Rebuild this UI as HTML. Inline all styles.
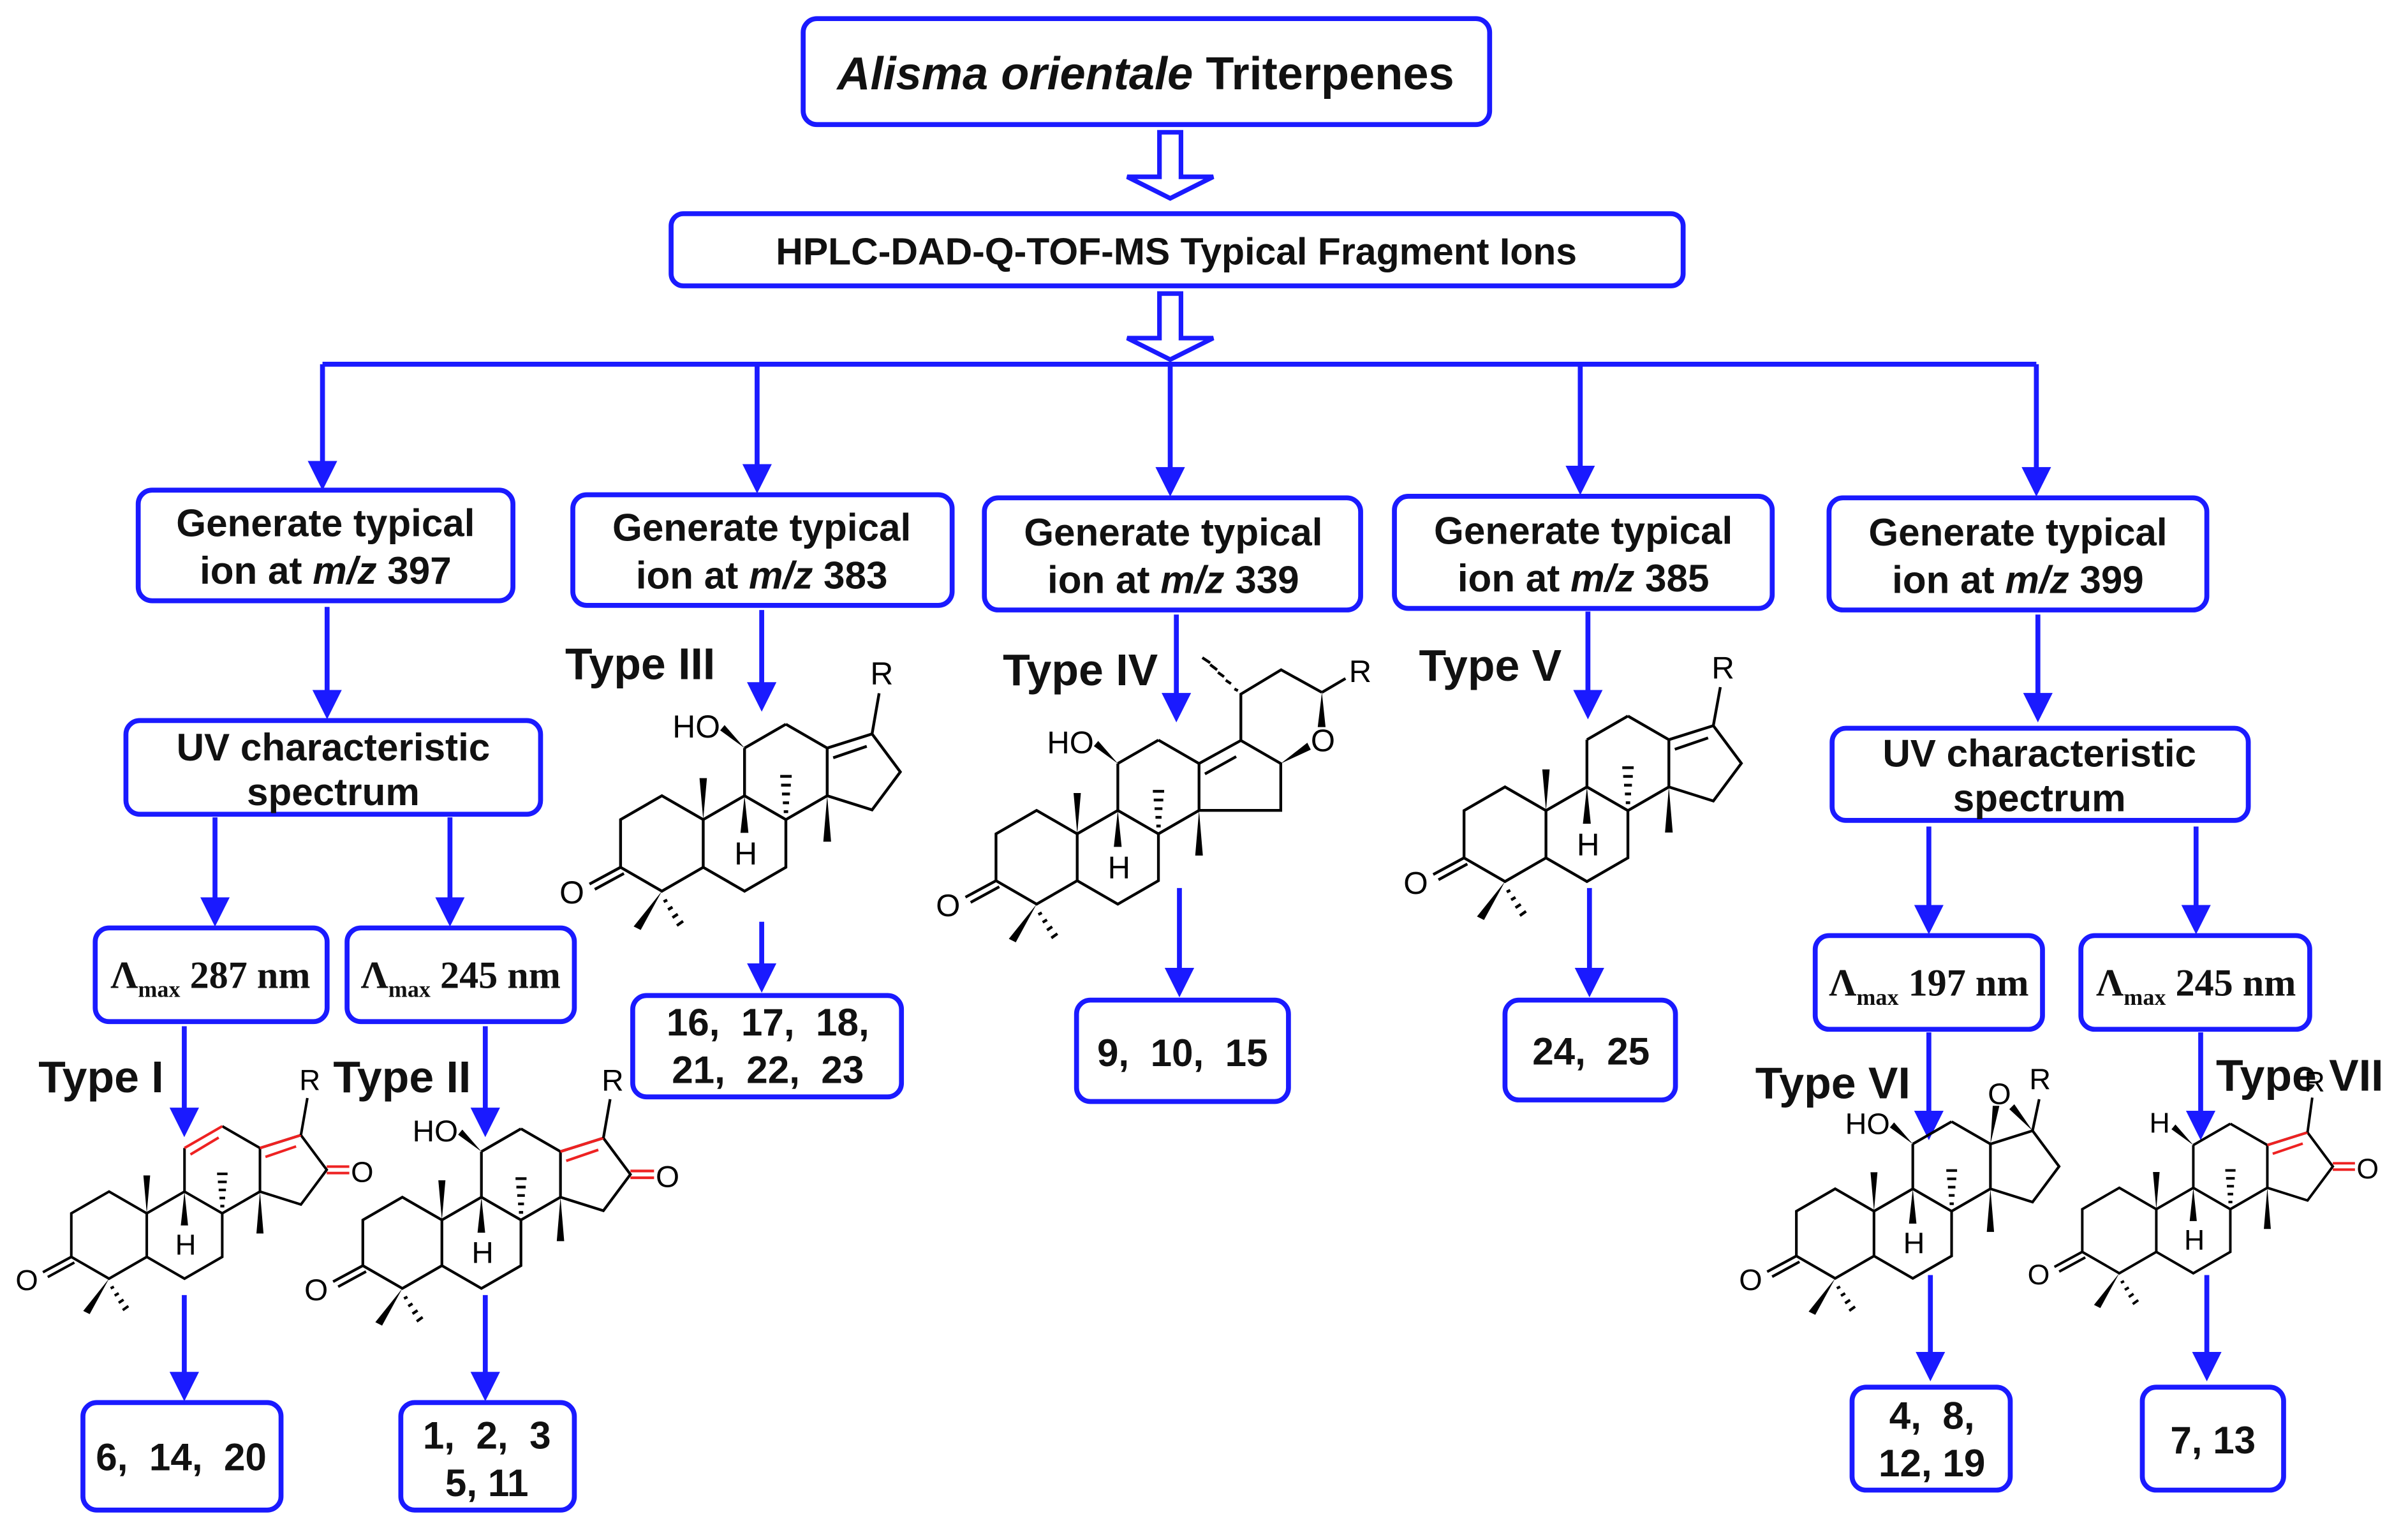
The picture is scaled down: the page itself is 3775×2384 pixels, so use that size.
<!DOCTYPE html>
<html><head><meta charset="utf-8"><style>
html,body{margin:0;padding:0;background:#fff;}
svg{display:block;}
.t{font-family:"Liberation Sans",Arial,sans-serif;font-weight:bold;fill:#111;}
.s{font-family:"Liberation Serif",serif;font-weight:bold;fill:#111;}
.box{fill:#fff;stroke:#1a1aff;stroke-width:3.2;}
.ar{stroke:#1a1aff;stroke-width:3.2;fill:none;}
.sk{stroke:#000;stroke-width:1.6;fill:none;}
.rd{stroke:#e22;stroke-width:1.6;fill:none;}
.lb{font-family:"Liberation Sans",Arial,sans-serif;font-size:18px;fill:#000;}
</style></head><body>
<svg width="3775" height="2384" viewBox="0 0 1568 990" xmlns="http://www.w3.org/2000/svg">
<defs>
<marker id="ah" markerWidth="6" markerHeight="6" refX="5" refY="3" orient="auto" markerUnits="strokeWidth">
<path d="M0,0 L6,3 L0,6 z" fill="#1a1aff"/></marker>
<g id="core">
<polygon class="sk" points="0,-27 23.4,-13.5 23.4,13.5 0,27 -23.4,13.5 -23.4,-13.5"/>
<polyline class="sk" points="23.4,-13.5 46.8,-27 70.2,-13.5 70.2,13.5 46.8,27 23.4,13.5"/>
<polyline class="sk" points="46.8,-27 46.8,-54"/>
<polyline class="sk" points="70.2,-67.5 93.6,-54 93.6,-27 70.2,-13.5"/>
<line class="sk" x1="-23.4" y1="13.5" x2="-41" y2="23"/>
<line class="sk" x1="-21.5" y1="17" x2="-38" y2="26"/>
<text class="lb" x="-58" y="34">O</text>
<polygon points="0,27 -16,47 -12,49" fill="#000"/>
<path class="sk" d="M3,32 l-2,1 M6,36 l-2.5,1.5 M9,40 l-3,2 M12,44 l-3.5,2.5"/>
<polygon points="23.4,-13.5 21.3,-37 25.5,-37" fill="#000"/>
<polygon points="46.8,-27 44.5,-6 49,-6" fill="#000"/>
<text class="lb" x="41" y="12">H</text>
<path class="sk" d="M69,-18 h2.5 M68.5,-23 h3.5 M68,-28 h4.5 M67.5,-33 h5.5 M67,-38 h6.5"/>
<polygon points="93.6,-27 91.4,-1 95.8,-1" fill="#000"/>
</g>
<g id="dring">
<polyline class="sk" points="93.6,-54 119,-62 135,-40.5 119,-19 93.6,-27"/>
</g>
</defs>

<rect class="box" x="523" y="12" width="447" height="69" rx="9"/>
<text class="t" x="746" y="58" font-size="30" text-anchor="middle"><tspan font-style="italic">Alisma orientale</tspan> Triterpenes</text>
<path d="M755,86 L769,86 L769,115 L790,115 L762,129 L734,115 L755,115 Z" fill="#fff" stroke="#1a1aff" stroke-width="3"/>
<rect class="box" x="437" y="139" width="659" height="47" rx="8"/>
<text class="t" x="766" y="172" font-size="24.5" text-anchor="middle">HPLC-DAD-Q-TOF-MS Typical Fragment Ions</text>
<path d="M755,191 L769,191 L769,220 L790,220 L762,234 L734,220 L755,220 Z" fill="#fff" stroke="#1a1aff" stroke-width="3"/>
<line class="ar" x1="210" y1="237" x2="1326" y2="237"/>
<line class="ar" x1="210" y1="237" x2="210" y2="316" marker-end="url(#ah)"/>
<line class="ar" x1="493" y1="237" x2="493" y2="318" marker-end="url(#ah)"/>
<line class="ar" x1="762" y1="237" x2="762" y2="320" marker-end="url(#ah)"/>
<line class="ar" x1="1029" y1="237" x2="1029" y2="319" marker-end="url(#ah)"/>
<line class="ar" x1="1326" y1="237" x2="1326" y2="320" marker-end="url(#ah)"/>

<g font-size="25" class="t" text-anchor="middle">
<rect class="box" x="90" y="319" width="244" height="72" rx="9"/>
<text class="t" x="212" y="349">Generate typical</text><text class="t" x="212" y="380">ion at <tspan font-style="italic">m/z</tspan> 397</text>
<rect class="box" x="373" y="322" width="247" height="72" rx="9"/>
<text class="t" x="496" y="352">Generate typical</text><text class="t" x="496" y="383">ion at <tspan font-style="italic">m/z</tspan> 383</text>
<rect class="box" x="641" y="324" width="245" height="73" rx="9"/>
<text class="t" x="764" y="355">Generate typical</text><text class="t" x="764" y="386">ion at <tspan font-style="italic">m/z</tspan> 339</text>
<rect class="box" x="908" y="323" width="246" height="73" rx="9"/>
<text class="t" x="1031" y="354">Generate typical</text><text class="t" x="1031" y="385">ion at <tspan font-style="italic">m/z</tspan> 385</text>
<rect class="box" x="1191" y="324" width="246" height="73" rx="9"/>
<text class="t" x="1314" y="355">Generate typical</text><text class="t" x="1314" y="386">ion at <tspan font-style="italic">m/z</tspan> 399</text>
<rect class="box" x="82" y="469" width="270" height="61" rx="9"/>
<text class="t" x="217" y="495">UV characteristic</text><text class="t" x="217" y="524">spectrum</text>
<rect class="box" x="1193" y="474" width="271" height="60" rx="9"/>
<text class="t" x="1328" y="499">UV characteristic</text><text class="t" x="1328" y="528">spectrum</text>
</g>

<g>
<line class="ar" x1="213" y1="395" x2="213" y2="465" marker-end="url(#ah)"/>
<line class="ar" x1="140" y1="532" x2="140" y2="600" marker-end="url(#ah)"/>
<line class="ar" x1="293" y1="532" x2="293" y2="600" marker-end="url(#ah)"/>
<line class="ar" x1="120" y1="668" x2="120" y2="737" marker-end="url(#ah)"/>
<line class="ar" x1="316" y1="668" x2="316" y2="737" marker-end="url(#ah)"/>
<line class="ar" x1="120" y1="843" x2="120" y2="909" marker-end="url(#ah)"/>
<line class="ar" x1="316" y1="843" x2="316" y2="909" marker-end="url(#ah)"/>
<line class="ar" x1="496" y1="397" x2="496" y2="460" marker-end="url(#ah)"/>
<line class="ar" x1="496" y1="600" x2="496" y2="643" marker-end="url(#ah)"/>
<line class="ar" x1="766" y1="400" x2="766" y2="467" marker-end="url(#ah)"/>
<line class="ar" x1="768" y1="578" x2="768" y2="646" marker-end="url(#ah)"/>
<line class="ar" x1="1034" y1="398" x2="1034" y2="465" marker-end="url(#ah)"/>
<line class="ar" x1="1035" y1="578" x2="1035" y2="646" marker-end="url(#ah)"/>
<line class="ar" x1="1327" y1="400" x2="1327" y2="467" marker-end="url(#ah)"/>
<line class="ar" x1="1256" y1="538" x2="1256" y2="605" marker-end="url(#ah)"/>
<line class="ar" x1="1430" y1="538" x2="1430" y2="605" marker-end="url(#ah)"/>
<line class="ar" x1="1256" y1="672" x2="1256" y2="739" marker-end="url(#ah)"/>
<line class="ar" x1="1433" y1="672" x2="1433" y2="739" marker-end="url(#ah)"/>
<line class="ar" x1="1257" y1="830" x2="1257" y2="896" marker-end="url(#ah)"/>
<line class="ar" x1="1437" y1="830" x2="1437" y2="896" marker-end="url(#ah)"/>
</g>

<rect class="box" x="62" y="604" width="151" height="61" rx="9"/>
<text class="s" x="137" y="643" font-size="25" text-anchor="middle">Λ<tspan font-size="15" dy="6">max</tspan><tspan dy="-6"> 287 nm</tspan></text>
<rect class="box" x="226" y="604" width="148" height="61" rx="9"/>
<text class="s" x="300" y="643" font-size="25" text-anchor="middle">Λ<tspan font-size="15" dy="6">max</tspan><tspan dy="-6"> 245 nm</tspan></text>
<rect class="box" x="1182" y="609" width="148" height="61" rx="9"/>
<text class="s" x="1256" y="648" font-size="25" text-anchor="middle">Λ<tspan font-size="15" dy="6">max</tspan><tspan dy="-6"> 197 nm</tspan></text>
<rect class="box" x="1355" y="609" width="149" height="61" rx="9"/>
<text class="s" x="1430" y="648" font-size="25" text-anchor="middle">Λ<tspan font-size="15" dy="6">max</tspan><tspan dy="-6"> 245 nm</tspan></text>

<g class="t" font-size="29">
<text x="25" y="711">Type I</text>
<text x="217" y="711">Type II</text>
<text x="368" y="442">Type III</text>
<text x="653" y="446">Type IV</text>
<text x="924" y="443">Type V</text>
<text x="1143" y="715">Type VI</text>
<text x="1443" y="710">Type VII</text>
</g>

<g transform="translate(71,804) scale(1.05)">
<use href="#core"/>
<line class="rd" x1="46.8" y1="-54" x2="70.2" y2="-67.5"/>
<line class="rd" x1="50.5" y1="-50" x2="68" y2="-60.5"/>
<polyline class="sk" points="93.6,-54 119,-62 135,-40.5 119,-19 93.6,-27"/>
<line class="rd" x1="93.6" y1="-54" x2="119" y2="-62"/>
<line class="rd" x1="97" y1="-48.5" x2="116" y2="-55"/>
<line class="sk" x1="119" y1="-62" x2="123" y2="-85"/>
<text class="lb" x="118" y="-90">R</text>
<line class="rd" x1="135" y1="-42.5" x2="149" y2="-42.5"/><line class="rd" x1="135" y1="-38.5" x2="149" y2="-38.5"/>
<text class="lb" x="150" y="-33">O</text>
</g>

<g transform="translate(262,809) scale(1.1)">
<use href="#core"/>
<polyline class="sk" points="46.8,-54 70.2,-67.5"/>
<polygon points="46.8,-54 33,-64 35.5,-67" fill="#000"/>
<text class="lb" x="6" y="-60">HO</text>
<polyline class="sk" points="93.6,-54 119,-62 135,-40.5 119,-19 93.6,-27"/>
<line class="rd" x1="93.6" y1="-54" x2="119" y2="-62"/>
<line class="rd" x1="97" y1="-48.5" x2="116" y2="-55"/>
<line class="sk" x1="119" y1="-62" x2="123" y2="-85"/>
<text class="lb" x="118" y="-90">R</text>
<line class="rd" x1="135" y1="-42.5" x2="149" y2="-42.5"/><line class="rd" x1="135" y1="-38.5" x2="149" y2="-38.5"/>
<text class="lb" x="150" y="-33">O</text>
</g>

<g transform="translate(431,549) scale(1.15)">
<use href="#core"/>
<polyline class="sk" points="46.8,-54 70.2,-67.5"/>
<polygon points="46.8,-54 33,-64 35.5,-67" fill="#000"/>
<text class="lb" x="6" y="-60">HO</text>
<use href="#dring"/>
<line class="sk" x1="97" y1="-48.5" x2="116" y2="-55"/>
<line class="sk" x1="119" y1="-62" x2="123" y2="-85"/>
<text class="lb" x="118" y="-90">R</text>
</g>

<g transform="translate(675,558) scale(1.13)">
<use href="#core"/>
<polyline class="sk" points="46.8,-54 70.2,-67.5"/>
<polygon points="46.8,-54 33,-64 35.5,-67" fill="#000"/>
<text class="lb" x="6" y="-60">HO</text>
<polyline class="sk" points="93.6,-54 117.7,-67.3 140.7,-54 140.7,-27 93.6,-27"/>
<line class="sk" x1="97" y1="-48" x2="115" y2="-58"/>
<polyline class="sk" points="117.7,-67.3 117.7,-94 140.9,-108 164.4,-95"/>
<polygon points="164.4,-95 162,-75 166.5,-75" fill="#000"/>
<polygon points="140.7,-54 156,-66 158,-62" fill="#000"/>
<text class="lb" x="158" y="-61">O</text>
<line class="sk" x1="164.4" y1="-95" x2="178" y2="-103"/>
<text class="lb" x="180" y="-101">R</text>
<path class="sk" d="M116,-96 l-2,-1 M112,-100 l-3,-2 M108,-104 l-3.5,-2.5 M104,-108 l-4,-3 M100,-112 l-4.5,-3"/>
</g>

<g transform="translate(980,543) scale(1.14)">
<use href="#core"/>
<polyline class="sk" points="46.8,-54 70.2,-67.5"/>
<use href="#dring"/>
<line class="sk" x1="97" y1="-48.5" x2="116" y2="-55"/>
<line class="sk" x1="119" y1="-62" x2="123" y2="-84"/>
<text class="lb" x="118" y="-89">R</text>
</g>

<g transform="translate(1195,803) scale(1.08)">
<use href="#core"/>
<polyline class="sk" points="46.8,-54 70.2,-67.5"/>
<polygon points="46.8,-54 33,-64 35.5,-67" fill="#000"/>
<text class="lb" x="6" y="-60">HO</text>
<use href="#dring"/>
<polygon points="93.6,-54 95,-77 99,-77" fill="#000"/>
<polygon points="119,-62 105,-75 108,-78" fill="#000"/>
<text class="lb" x="92" y="-78">O</text>
<line class="sk" x1="119" y1="-62" x2="123" y2="-81"/>
<text class="lb" x="117" y="-87">R</text>
</g>

<g transform="translate(1380,801) scale(1.03)">
<use href="#core"/>
<polyline class="sk" points="46.8,-54 70.2,-67.5"/>
<polygon points="46.8,-54 33,-64 35.5,-67" fill="#000"/>
<text class="lb" x="19" y="-62">H</text>
<polyline class="sk" points="93.6,-54 119,-62 135,-40.5 119,-19 93.6,-27"/>
<line class="rd" x1="93.6" y1="-54" x2="119" y2="-62"/>
<line class="rd" x1="97" y1="-48.5" x2="116" y2="-55"/>
<line class="sk" x1="119" y1="-62" x2="122" y2="-84"/>
<text class="lb" x="117" y="-88">R</text>
<line class="rd" x1="135" y1="-42.5" x2="149" y2="-42.5"/><line class="rd" x1="135" y1="-38.5" x2="149" y2="-38.5"/>
<text class="lb" x="150" y="-33">O</text>
</g>

<g class="t" font-size="25" text-anchor="middle">
<rect class="box" x="54" y="913" width="129" height="70" rx="9"/>
<text class="t" x="118" y="957">6,&#160; 14,&#160; 20</text>
<rect class="box" x="261" y="913" width="113" height="70" rx="9"/>
<text class="t" x="317" y="943">1,&#160; 2,&#160; 3</text><text class="t" x="317" y="974">5, 11</text>
<rect class="box" x="412" y="648" width="175" height="66" rx="9"/>
<text class="t" x="500" y="674">16,&#160; 17,&#160; 18,</text><text class="t" x="500" y="705">21,&#160; 22,&#160; 23</text>
<rect class="box" x="701" y="651" width="138" height="66" rx="9"/>
<text class="t" x="770" y="694">9,&#160; 10,&#160; 15</text>
<rect class="box" x="980" y="651" width="111" height="65" rx="9"/>
<text class="t" x="1036" y="693">24,&#160; 25</text>
<rect class="box" x="1206" y="903" width="103" height="67" rx="9"/>
<text class="t" x="1258" y="930">4,&#160; 8,</text><text class="t" x="1258" y="961">12, 19</text>
<rect class="box" x="1395" y="903" width="92" height="67" rx="9"/>
<text class="t" x="1441" y="946">7, 13</text>
</g>
</svg>
</body></html>
